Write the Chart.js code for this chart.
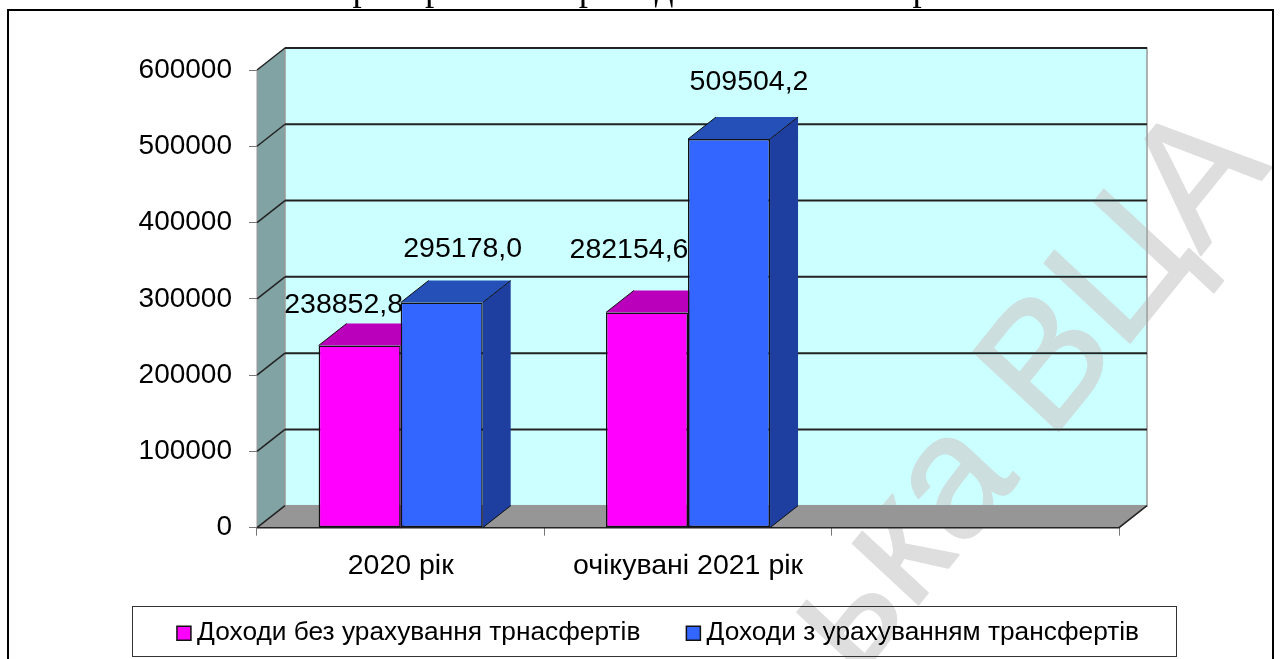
<!DOCTYPE html>
<html>
<head>
<meta charset="utf-8">
<script src="https://cdn.jsdelivr.net/npm/chart.js@4"></script>
<style>
html, body { margin: 0; padding: 0; background: #fff; overflow: hidden; }
#wrap { width: 1281px; height: 659px; }
</style>
</head>
<body>
<div id="wrap"><canvas id="myChart"></canvas></div>
<script>
const categories = ['2020 рік', 'очікувані 2021 рік', ''];
const seriesNames = ['Доходи без урахування трнасфертів', 'Доходи з урахуванням трансфертів'];
const withoutTransfers = [238852.8, 282154.6, null];
const withTransfers = [295178.0, 509504.2, null];
const yTicks = [0, 100000, 200000, 300000, 400000, 500000, 600000];
const titleText = 'Територіальної громади за 2020-2022 роки';
const watermarkText = 'ька ВЦА';

const depthX = 28;
const depthY = 22;
const faceColors = [
    { front: '#ff00ff', top: '#bb00bb', side: '#990099' },
    { front: '#3366ff', top: '#2450b8', side: '#1f3fa0' },
];
// where each value label sits relative to its bar top, [series][category]
const labelShift = [
    [[-16, -40], [-18, -62]],
    [[21, -53], [20, -57]],
];

const sans = '"Liberation Sans", Arial, sans-serif';

const scene3d = {
    id: 'scene3d',
    afterLayout(chart) {
        // title is cut by the top of the page in the original
        chart.titleBlock.top = -32;
        chart.titleBlock.left = 21;
        // wide gap between the legend items needs big padding, pull the row back up
        chart.legend.top = 567;
    },
    beforeDraw(chart) {
        const { ctx } = chart;
        ctx.save();
        ctx.strokeStyle = '#000';
        ctx.lineWidth = 2;
        ctx.beginPath();
        ctx.moveTo(8, 659);
        ctx.lineTo(8, 10);
        ctx.lineTo(1273, 10);
        ctx.lineTo(1273, 659);
        ctx.stroke();
        ctx.lineWidth = 1;
        ctx.strokeStyle = '#333';
        ctx.fillStyle = '#fff';
        ctx.fillRect(132.5, 606.5, 1044, 50);
        ctx.strokeRect(132.5, 606.5, 1044, 50);
        ctx.restore();
    },
    beforeDatasetsDraw(chart) {
        const { ctx, chartArea: area, scales: { y } } = chart;
        const x0 = area.left;
        const x1 = area.right;
        const yBase = y.getPixelForValue(0);
        const yTop = y.getPixelForValue(600000);
        ctx.save();

        // side wall
        ctx.fillStyle = '#82a3a3';
        ctx.beginPath();
        ctx.moveTo(x0, yBase);
        ctx.lineTo(x0 + depthX, yBase - depthY);
        ctx.lineTo(x0 + depthX, yTop - depthY);
        ctx.lineTo(x0, yTop);
        ctx.closePath();
        ctx.fill();
        ctx.strokeStyle = '#999';
        ctx.lineWidth = 1;
        ctx.beginPath();
        ctx.moveTo(x0, yBase);
        ctx.lineTo(x0, yTop);
        ctx.stroke();

        // back wall
        ctx.fillStyle = '#ccffff';
        ctx.fillRect(x0 + depthX, yTop - depthY, x1 - x0, yBase - yTop);
        ctx.strokeStyle = '#999';
        ctx.lineWidth = 1.5;
        ctx.strokeRect(x0 + depthX, yTop - depthY, x1 - x0, yBase - yTop);

        // floor
        ctx.fillStyle = '#969696';
        ctx.beginPath();
        ctx.moveTo(x0, yBase);
        ctx.lineTo(x0 + depthX, yBase - depthY);
        ctx.lineTo(x1 + depthX, yBase - depthY);
        ctx.lineTo(x1, yBase);
        ctx.closePath();
        ctx.fill();

        // grid lines on both walls
        ctx.strokeStyle = '#222';
        yTicks.forEach((v) => {
            const py = y.getPixelForValue(v);
            ctx.lineWidth = 1.5;
            ctx.beginPath();
            ctx.moveTo(x0, py);
            ctx.lineTo(x0 + depthX, py - depthY);
            ctx.stroke();
            if (v > 0) {
                ctx.lineWidth = 2;
                ctx.beginPath();
                ctx.moveTo(x0 + depthX, py - depthY);
                ctx.lineTo(x1 + depthX, py - depthY);
                ctx.stroke();
            }
        });
        ctx.lineWidth = 1.5;
        ctx.beginPath();
        ctx.moveTo(x0, yBase);
        ctx.lineTo(x1, yBase);
        ctx.lineTo(x1 + depthX, yBase - depthY);
        ctx.stroke();

        // top and side of every bar
        ctx.strokeStyle = '#111';
        ctx.lineWidth = 1;
        chart.data.datasets.forEach((ds, i) => {
            chart.getDatasetMeta(i).data.forEach((bar, j) => {
                if (ds.data[j] === null) return;
                const left = bar.x - bar.width / 2;
                const right = bar.x + bar.width / 2;
                ctx.fillStyle = faceColors[i].side;
                ctx.beginPath();
                ctx.moveTo(right, bar.y);
                ctx.lineTo(right + depthX, bar.y - depthY);
                ctx.lineTo(right + depthX, yBase - depthY);
                ctx.lineTo(right, yBase);
                ctx.closePath();
                ctx.fill();
                ctx.fillStyle = faceColors[i].top;
                ctx.beginPath();
                ctx.moveTo(left, bar.y);
                ctx.lineTo(left + depthX, bar.y - depthY);
                ctx.lineTo(right + depthX, bar.y - depthY);
                ctx.lineTo(right, bar.y);
                ctx.closePath();
                ctx.fill();
                ctx.beginPath();
                ctx.moveTo(right, yBase);
                ctx.lineTo(right + depthX, yBase - depthY);
                ctx.moveTo(right, bar.y);
                ctx.lineTo(right + depthX, bar.y - depthY);
                ctx.moveTo(left, bar.y);
                ctx.lineTo(left + depthX, bar.y - depthY);
                ctx.stroke();
            });
        });
        ctx.restore();
    },
    afterDatasetsDraw(chart) {
        const { ctx } = chart;
        ctx.save();
        ctx.fillStyle = '#000';
        ctx.font = '28.5px ' + sans;
        ctx.textAlign = 'center';
        ctx.textBaseline = 'middle';
        chart.data.datasets.forEach((ds, i) => {
            chart.getDatasetMeta(i).data.forEach((bar, j) => {
                if (ds.data[j] === null) return;
                const shift = labelShift[i][j];
                const text = ds.data[j].toFixed(1).replace('.', ',');
                ctx.fillText(text, bar.x + shift[0], bar.y + shift[1]);
            });
        });
        ctx.restore();
    },
    afterDraw(chart) {
        const { ctx } = chart;
        ctx.save();
        ctx.globalCompositeOperation = 'darken';
        ctx.fillStyle = '#dedede';
        ctx.strokeStyle = '#dedede';
        ctx.lineWidth = 2;
        ctx.lineJoin = 'round';
        ctx.font = '170px ' + sans;
        ctx.textAlign = 'right';
        ctx.textBaseline = 'alphabetic';
        // the watermark is slightly sheared in the original
        ctx.transform(0.63, -0.78, 0.73, 0.68, 1272, 167);
        ctx.fillText(watermarkText, 0, 0);
        ctx.strokeText(watermarkText, 0, 0);
        ctx.restore();
    },
};

new Chart(document.getElementById('myChart').getContext('2d'), {
    type: 'bar',
    data: {
        labels: categories,
        datasets: [
            {
                label: seriesNames[0],
                data: withoutTransfers,
                backgroundColor: faceColors[0].front,
                borderColor: '#111',
                borderWidth: 1.5,
                borderSkipped: false,
            },
            {
                label: seriesNames[1],
                data: withTransfers,
                backgroundColor: faceColors[1].front,
                borderColor: '#111',
                borderWidth: 1.5,
                borderSkipped: false,
            },
        ],
    },
    options: {
        responsive: true,
        maintainAspectRatio: false,
        animation: false,
        datasets: { bar: { categoryPercentage: 0.571, barPercentage: 1 } },
        layout: { padding: { left: 42, right: 0, top: 25.6, bottom: -13 } },
        scales: {
            x: {
                grid: { drawOnChartArea: false, tickLength: 8, tickColor: '#777', offset: true },
                border: { display: false },
                ticks: { color: '#000', font: { family: sans, size: 28.5 }, padding: 13, maxRotation: 0 },
                afterFit(scale) { scale.height = 55; },
            },
            y: {
                min: 0,
                max: 600000,
                grid: { drawOnChartArea: false, tickLength: 8, tickColor: '#777' },
                border: { display: false },
                ticks: {
                    color: '#000',
                    font: { family: sans, size: 28 },
                    padding: 17,
                    callback: (v) => String(v),
                },
                afterBuildTicks(axis) { axis.ticks = yTicks.map((value) => ({ value })); },
                afterFit(scale) { scale.width = 215; },
            },
            // empty axis, only keeps the plot clear of the right side
            yRight: {
                position: 'right',
                display: true,
                grid: { display: false },
                border: { display: false },
                ticks: { display: false },
                afterFit(scale) { scale.width = 162; },
            },
        },
        plugins: {
            title: {
                display: true,
                text: titleText,
                color: '#000',
                font: { family: '"Liberation Serif", "Times New Roman", serif', size: 37, weight: 'normal' },
                padding: 0,
            },
            legend: {
                position: 'bottom',
                labels: {
                    color: '#000',
                    font: { family: sans, size: 26.3 },
                    usePointStyle: true,
                    pointStyle: 'rect',
                    boxWidth: 0.01,
                    boxHeight: 14,
                    padding: 53,
                },
            },
            tooltip: { enabled: false },
        },
    },
    plugins: [scene3d],
});
</script>
</body>
</html>
